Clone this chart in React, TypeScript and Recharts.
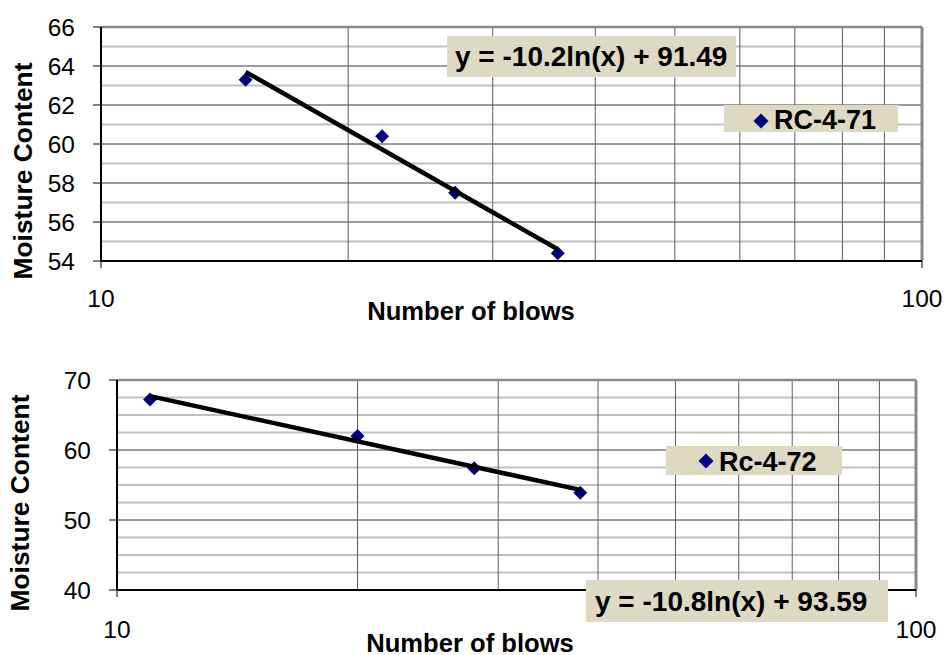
import React from 'react';
import { ComposedChart, Scatter, XAxis, YAxis, CartesianGrid, ReferenceLine, Legend } from 'recharts';

const FONT = '"Liberation Sans", Arial, sans-serif';
const BOX_BG = '#DDD9C3';
const NAVY = '#000080';

// ---- Chart 1 data ----
const blows1 = [15, 22, 27, 36];
const moisture1 = [63.3, 60.4, 57.5, 54.4];
const trendBlows1 = [15, 36];
const trendMoisture1 = [63.7, 54.6];
const yTicks1 = [54, 56, 58, 60, 62, 64, 66];
const yMinor1 = [55, 57, 59, 61, 63, 65];
const series1 = 'RC-4-71';
const equation1 = 'y = -10.2ln(x) + 91.49';

// ---- Chart 2 data ----
const blows2 = [11, 20, 28, 38];
const moisture2 = [67.2, 62, 57.4, 53.9];
const trendBlows2 = [11, 38];
const trendMoisture2 = [67.7, 54.3];
const yTicks2 = [40, 50, 60, 70];
const yMinor2 = [42.5, 45, 47.5, 52.5, 55, 57.5, 62.5, 65, 67.5];
const series2 = 'Rc-4-72';
const equation2 = 'y = -10.8ln(x) + 93.59';

// ---- shared axis values ----
const xTicks = [10, 100];
const xGrid = [20, 30, 40, 50, 60, 70, 80, 90];
const xTitle = 'Number of blows';
const yTitle = 'Moisture Content';

const toPoints = (xs: number[], ys: number[]) => xs.map((x, i) => ({ x, y: ys[i] }));

const Diamond = (props: any) => {
  const { cx, cy } = props;
  if (cx == null || cy == null) return <g />;
  const r = 7;
  return <path d={`M${cx},${cy - r}L${cx + r},${cy}L${cx},${cy + r}L${cx - r},${cy}Z`} fill={NAVY} />;
};

const NoShape = () => <g />;

type LegendCfg = { left: number; top: number; width: number; height: number; dx: number; dy: number; tx: number; lh: number };

const LegendBox = ({ label, cfg }: { label: string; cfg: LegendCfg }) => (
  <div style={{ position: 'relative', width: cfg.width, height: cfg.height, background: BOX_BG, fontFamily: FONT, fontWeight: 'bold', fontSize: 27, color: '#000' }}>
    <svg width={16} height={16} style={{ position: 'absolute', left: cfg.dx - 8, top: cfg.dy - 8 }}>
      <path d="M8,0.5L15.5,8L8,15.5L0.5,8Z" fill={NAVY} />
    </svg>
    <span style={{ position: 'absolute', left: cfg.tx, top: 0, lineHeight: cfg.lh + 'px', whiteSpace: 'nowrap' }}>{label}</span>
  </div>
);

type ChartCfg = {
  top: number;
  height: number;
  margin: { top: number; right: number; left: number; bottom: number };
  yWidth: number;
  yDomain: [number, number];
  yTicks: number[];
  yMinor: number[];
  points: { x: number; y: number }[];
  trend: { x: number; y: number }[];
  series: string;
  legend: LegendCfg;
  xTickMargin: number;
};

const Chart = ({ cfg }: { cfg: ChartCfg }) => (
  <div style={{ position: 'absolute', left: 0, top: cfg.top }}>
    <ComposedChart width={946} height={cfg.height} margin={cfg.margin}>
      <CartesianGrid vertical={false} stroke="#3a3a3a" strokeWidth={1} />
      {cfg.yMinor.map((v) => (
        <ReferenceLine key={'hm' + v} y={v} stroke="#c0c0c0" strokeWidth={2} />
      ))}
      {xGrid.map((v) => (
        <ReferenceLine key={'vg' + v} x={v} stroke="#5e5e5e" strokeWidth={1} />
      ))}
      <ReferenceLine y={cfg.yDomain[1]} stroke="#888888" strokeWidth={2.5} />
      <ReferenceLine x={100} stroke="#888888" strokeWidth={3} />
      <XAxis
        type="number"
        dataKey="x"
        scale="log"
        domain={[10, 100]}
        ticks={xTicks}
        allowDataOverflow
        height={60}
        tickSize={7}
        tickMargin={cfg.xTickMargin}
        axisLine={{ stroke: '#000', strokeWidth: 2 }}
        tickLine={{ stroke: '#000', strokeWidth: 1 }}
        tick={{ fill: '#000', fontSize: 24.5, fontFamily: FONT }}
      />
      <YAxis
        type="number"
        dataKey="y"
        domain={cfg.yDomain}
        ticks={cfg.yTicks}
        allowDataOverflow
        width={cfg.yWidth}
        tickSize={8}
        tickMargin={18}
        axisLine={{ stroke: '#000', strokeWidth: 2 }}
        tickLine={{ stroke: '#000', strokeWidth: 1 }}
        tick={{ fill: '#000', fontSize: 24.5, fontFamily: FONT }}
      />
      <Scatter name={cfg.series} data={cfg.points} shape={Diamond} fill={NAVY} isAnimationActive={false} />
      <Scatter
        name="trend"
        legendType="none"
        data={cfg.trend}
        shape={NoShape}
        line={{ stroke: '#000', strokeWidth: 4.5 }}
        isAnimationActive={false}
      />
      <Legend
        layout="vertical"
        align="center"
        verticalAlign="middle"
        wrapperStyle={{ left: cfg.legend.left, top: cfg.legend.top, width: cfg.legend.width, height: cfg.legend.height, margin: 0, padding: 0 }}
        content={() => <LegendBox label={cfg.series} cfg={cfg.legend} />}
      />
    </ComposedChart>
  </div>
);

const chart1: ChartCfg = {
  top: 0,
  height: 330,
  margin: { top: 27, right: 24, left: 1, bottom: 9 },
  yWidth: 100,
  yDomain: [54, 66],
  yTicks: yTicks1,
  yMinor: yMinor1,
  points: toPoints(blows1, moisture1),
  trend: toPoints(trendBlows1, trendMoisture1),
  series: series1,
  legend: { left: 724, top: 105, width: 174, height: 27, dx: 37, dy: 15.5, tx: 50, lh: 31 },
  xTickMargin: 22,
};

const chart2: ChartCfg = {
  top: 330,
  height: 325,
  margin: { top: 50, right: 30, left: 1, bottom: 5 },
  yWidth: 116,
  yDomain: [40, 70],
  yTicks: yTicks2,
  yMinor: yMinor2,
  points: toPoints(blows2, moisture2),
  trend: toPoints(trendBlows2, trendMoisture2),
  series: series2,
  legend: { left: 666, top: 116, width: 176, height: 29, dx: 40, dy: 15, tx: 53, lh: 33 },
  xTickMargin: 24,
};

const EqBox = ({ text, left, top, width, height, pad, lh }: { text: string; left: number; top: number; width: number; height: number; pad: number; lh: number }) => (
  <div style={{ position: 'absolute', left, top, width, height, background: BOX_BG, fontFamily: FONT, fontWeight: 'bold', fontSize: 28, color: '#000', overflow: 'visible' }}>
    <span style={{ position: 'absolute', left: pad, top: 0, lineHeight: lh + 'px', whiteSpace: 'nowrap' }}>{text}</span>
  </div>
);

const XTitle = ({ cx, top }: { cx: number; top: number }) => (
  <div style={{ position: 'absolute', left: cx - 160, top, width: 320, height: 22, lineHeight: '22px', textAlign: 'center', fontFamily: FONT, fontWeight: 'bold', fontSize: 25.6, color: '#000', whiteSpace: 'nowrap' }}>
    {xTitle}
  </div>
);

const YTitle = ({ cx, cy }: { cx: number; cy: number }) => (
  <div style={{ position: 'absolute', left: cx - 160, top: cy - 15, width: 320, height: 30, lineHeight: '30px', textAlign: 'center', fontFamily: FONT, fontWeight: 'bold', fontSize: 26.4, color: '#000', whiteSpace: 'nowrap', transform: 'rotate(-90deg)' }}>
    {yTitle}
  </div>
);

export default function App() {
  return (
    <div style={{ position: 'absolute', left: 0, top: 0, width: 946, height: 655, background: '#fff', overflow: 'hidden' }}>
      <Chart cfg={chart1} />
      <Chart cfg={chart2} />
      <EqBox text={equation1} left={447} top={36} width={289} height={41} pad={8} lh={42} />
      <EqBox text={equation2} left={586} top={580} width={302} height={42} pad={9} lh={44} />
      <XTitle cx={471} top={300.3} />
      <XTitle cx={470} top={631.5} />
      <YTitle cx={23} cy={171} />
      <YTitle cx={20} cy={503} />
    </div>
  );
}
